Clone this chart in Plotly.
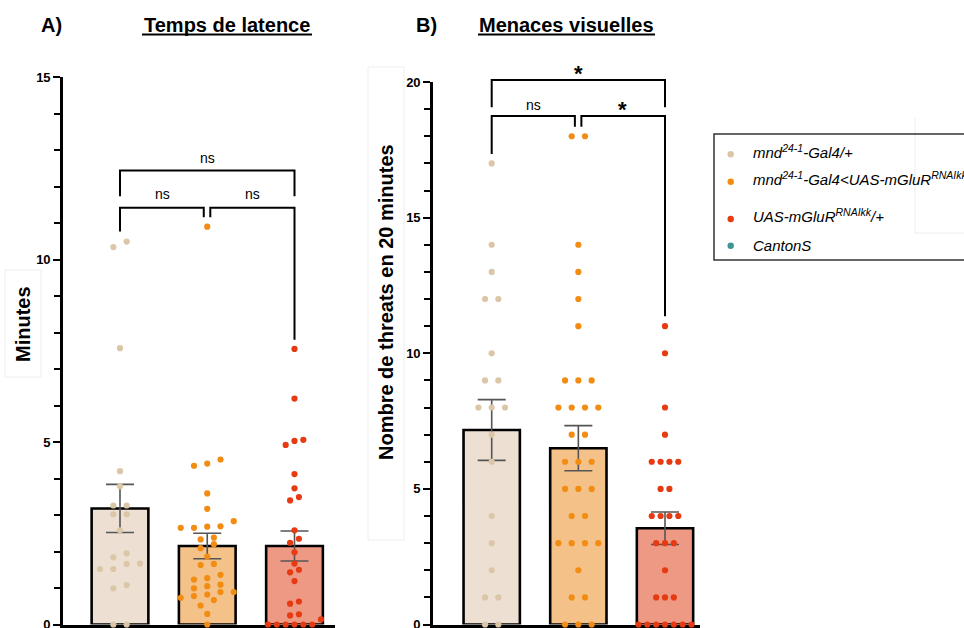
import plotly.graph_objects as go

W, H = 964, 628

# ---------------- data ----------------
genotypes = ["mnd24-1-Gal4/+", "mnd24-1-Gal4<UAS-mGluR RNAIkk", "UAS-mGluR RNAIkk/+"]

# Panel A : Temps de latence (minutes)
latence_mnd = [10.49, 10.34, 7.57, 4.20, 3.79, 3.26, 3.26, 3.02, 3.02, 2.58,
               1.95, 1.84, 1.67, 1.66, 1.52, 1.52, 1.08, 0.99, 0.0, 0.0]
latence_cross = [10.90, 4.52, 4.41, 4.35, 3.59, 3.17, 2.83, 2.69, 2.68, 2.65, 2.65,
                 2.38, 2.33, 2.20, 2.09, 1.86, 1.66, 1.63, 1.36, 1.27, 1.23, 1.09,
                 1.05, 0.99, 0.89, 0.89, 0.82, 0.78, 0.73, 0.67, 0.52, 0.29, 0.0]
latence_uas = [7.55, 6.19, 5.06, 5.03, 4.92, 4.12, 3.73, 3.49, 3.40, 2.58, 2.35,
               2.24, 1.98, 1.67, 1.50, 1.43, 1.19, 0.63, 0.57, 0.28, 0.25, 0.14,
               0.0, 0.0, 0.0, 0.0, 0.0, 0.0]
latence_mean = [3.18, 2.15, 2.15]
latence_sem = [0.66, 0.35, 0.41]

# Panel B : Nombre de threats en 20 minutes
threats_mnd = [17, 14, 13, 12, 12, 10, 9, 9, 8, 8, 8, 7, 6, 4, 3, 2, 1, 1, 0, 0]
threats_cross = [18, 18, 14, 13, 12, 11, 9, 9, 9, 8, 8, 8, 8, 7, 7, 6, 6, 6, 5, 5, 5,
                 4, 4, 3, 3, 3, 3, 2, 1, 1, 0, 0, 0]
threats_uas = [11, 10, 8, 7, 6, 6, 6, 6, 5, 5, 4, 4, 4, 4, 3, 3, 3, 2, 1, 1, 1,
               0, 0, 0, 0, 0, 0, 0]
threats_mean = [7.17, 6.50, 3.55]
threats_sem = [1.12, 0.83, 0.60]

# significance labels
sig_A = ["ns", "ns", "ns"]        # top (1 vs 3), left (1 vs 2), right (2 vs 3)
sig_B = ["*", "ns", "*"]

legend_labels = ["mnd<sup>24-1</sup>-Gal4/+",
                 "mnd<sup>24-1</sup>-Gal4<UAS-mGluR<sup>RNAIkk</sup>",
                 "UAS-mGluR<sup>RNAIkk</sup>/+",
                 "CantonS"]

# ---------------- styles ----------------
FONT = "Liberation Sans, Arial, Helvetica, sans-serif"
point_colors = ["#DCC6A8", "#F28C12", "#E63A12"]
bar_colors = ["#EDE0D2", "#F4C289", "#EE9984"]
canton_color = "#3E9595"

# geometry (pixels)
A_x0, A_x1 = 63, 335
B_x0, B_x1 = 433, 700
A_top, B_top, BOTTOM = 77, 82, 624.5
A_pxx, B_pxx = 87.25, 86.65
A_r0 = -(120 - A_x0) / A_pxx
B_r0 = -(491.7 - B_x0) / B_pxx
A_range = [A_r0, A_r0 + (A_x1 - A_x0) / A_pxx]
B_range = [B_r0, B_r0 + (B_x1 - B_x0) / B_pxx]
A_ymax, B_ymax = 15, 20
A_pxy = (BOTTOM - A_top) / A_ymax
B_pxy = (BOTTOM - B_top) / B_ymax


def py(p):
    return 1 - p / H


def px(p):
    return p / W


def A_paper(v):
    return py(BOTTOM - v * A_pxy)


def B_paper(v):
    return py(BOTTOM - v * B_pxy)


def swarm(vals, pxy, pxx, row_px=7.3, step_px=13.3, span_px=53.0):
    order = sorted(range(len(vals)), key=lambda i: vals[i])
    rows = []
    for i in order:
        if rows and (vals[i] - vals[rows[-1][0]]) * pxy <= row_px:
            rows[-1].append(i)
        else:
            rows.append([i])
    nmax = max(len(r) for r in rows)
    step = step_px if nmax < 2 else min(step_px, span_px / (nmax - 1))
    off = [0.0] * len(vals)
    for r in rows:
        n = len(r)
        for k, i in enumerate(r):
            off[i] = (k - (n - 1) / 2) * step / pxx
    return off


fig = go.Figure()

# ---------------- bars ----------------
for means, sems, xa, ya in [(latence_mean, latence_sem, "x", "y"),
                            (threats_mean, threats_sem, "x2", "y2")]:
    fig.add_trace(go.Bar(
        x=[0, 1, 2], y=means, width=0.65, xaxis=xa, yaxis=ya,
        marker=dict(color=bar_colors, line=dict(color="black", width=2.6)),
        error_y=dict(type="data", array=sems, visible=True, color="#555555",
                     thickness=1.6, width=14),
        hoverinfo="skip", showlegend=False))

# ---------------- points ----------------
panels = [([latence_mnd, latence_cross, latence_uas], A_pxy, A_pxx, "x", "y"),
          ([threats_mnd, threats_cross, threats_uas], B_pxy, B_pxx, "x2", "y2")]
for groups, pxy, pxx, xa, ya in panels:
    for g, vals in enumerate(groups):
        off = swarm(vals, pxy, pxx)
        fig.add_trace(go.Scatter(
            x=[g + o for o in off], y=vals, mode="markers", xaxis=xa, yaxis=ya,
            marker=dict(color=point_colors[g], size=6.2, line=dict(width=0)),
            cliponaxis=False, showlegend=False, name=genotypes[g]))

shapes = []
annotations = []


def bracket(xa, conv, x_a, x_b, y_left, y_top, y_right):
    shapes.append(dict(type="path", xref=xa, yref="paper",
                       path=f"M {x_a},{conv(y_left)} L {x_a},{conv(y_top)} "
                            f"L {x_b},{conv(y_top)} L {x_b},{conv(y_right)}",
                       line=dict(color="black", width=2)))


# Panel A brackets
bracket("x", A_paper, 0, 2, 11.73, 12.44, 11.73)
bracket("x", A_paper, 0, 0.96, 10.77, 11.42, 11.16)
bracket("x", A_paper, 1.035, 2, 11.16, 11.42, 7.80)
# Panel B brackets
bracket("x2", B_paper, 0, 2, 19.07, 20.07, 19.07)
bracket("x2", B_paper, 0, 0.96, 17.35, 18.75, 18.35)
bracket("x2", B_paper, 1.035, 2, 18.35, 18.75, 11.36)


def sig_text(xa, x, ypix, txt):
    star = txt == "*"
    annotations.append(dict(
        xref=xa, yref="paper", x=x, y=py(ypix + (5 if star else 0)),
        text=f"<b>{txt}</b>" if star else txt, showarrow=False,
        xanchor="center", yanchor="middle",
        font=dict(family=FONT, size=22 if star else 14, color="black")))


sig_text("x", 1.0, 157.5, sig_A[0])
sig_text("x", 0.49, 194, sig_A[1])
sig_text("x", 1.52, 194, sig_A[2])
sig_text("x2", 1.0, 68.5, sig_B[0])
sig_text("x2", 0.48, 104.5, sig_B[1])
sig_text("x2", 1.51, 105, sig_B[2])

# ---------------- titles ----------------
for txt, xc in [("A)", 51), ("Temps de latence", 227), ("B)", 426), ("Menaces visuelles", 566)]:
    annotations.append(dict(xref="paper", yref="paper", x=px(xc), y=py(25),
                            text=f"<b>{txt}</b>", showarrow=False,
                            xanchor="center", yanchor="middle",
                            font=dict(family=FONT, size=20, color="black")))
for x0, x1, yy in [(142, 312, 34.5), (478, 655, 34.5)]:
    shapes.append(dict(type="line", xref="paper", yref="paper",
                       x0=px(x0), x1=px(x1), y0=py(yy), y1=py(yy),
                       line=dict(color="black", width=2)))

# y-axis titles
annotations.append(dict(xref="paper", yref="paper", x=px(23), y=py(324),
                        text="<b>Minutes</b>", textangle=-90, showarrow=False,
                        xanchor="center", yanchor="middle",
                        font=dict(family=FONT, size=20, color="black")))
annotations.append(dict(xref="paper", yref="paper", x=px(386), y=py(302),
                        text="<b>Nombre de threats en 20 minutes</b>", textangle=-90,
                        showarrow=False, xanchor="center", yanchor="middle",
                        font=dict(family=FONT, size=20, color="black")))

# faint frames around the axis titles and legend area (as in the source image)
faint = dict(color="#EEEEEE", width=1)
shapes.append(dict(type="rect", xref="paper", yref="paper",
                   x0=px(5), x1=px(41), y0=py(377), y1=py(270), line=faint))
shapes.append(dict(type="rect", xref="paper", yref="paper",
                   x0=px(368), x1=px(404), y0=py(540), y1=py(67), line=faint))
shapes.append(dict(type="path", xref="paper", yref="paper",
                   path=f"M {px(915)},{py(118)} L {px(915)},{py(233)} L {px(970)},{py(233)}",
                   line=faint))

# ---------------- legend (drawn by hand) ----------------
shapes.append(dict(type="rect", xref="paper", yref="paper",
                   x0=px(714), x1=px(1000), y0=py(260), y1=py(134),
                   line=dict(color="#333333", width=1.5)))
leg_colors = point_colors + [canton_color]
leg_y = [154.3, 181.7, 219, 245.7]
for lab, col, yy in zip(legend_labels, leg_colors, leg_y):
    shapes.append(dict(type="circle", xref="paper", yref="paper",
                       x0=px(730.7 - 3.2), x1=px(730.7 + 3.2),
                       y0=py(yy + 3.2), y1=py(yy - 3.2),
                       fillcolor=col, line=dict(width=0)))
    shift = -3 if "<sup>" in lab else 0
    annotations.append(dict(xref="paper", yref="paper", x=px(751), y=py(yy + shift),
                            text=lab, showarrow=False, xanchor="left", yanchor="middle",
                            font=dict(family=FONT, size=15, color="black", style="italic")))

# ---------------- layout ----------------
common_x = dict(showline=True, linecolor="black", linewidth=2.6, ticks="outside",
                tickvals=[0, 1, 2], showticklabels=False, ticklen=6, tickwidth=2,
                tickcolor="black", showgrid=False, zeroline=False, layer="below traces")
common_y = dict(showline=True, linecolor="black", linewidth=2.6, ticks="outside",
                tick0=0, dtick=5, ticklen=7, tickwidth=2, tickcolor="black",
                minor=dict(dtick=1, ticks="outside", ticklen=6, tickwidth=2,
                           tickcolor="black", showgrid=False),
                tickfont=dict(family=FONT, size=13, color="black", weight="bold"),
                ticklabeloverflow="allow",
                showgrid=False, zeroline=False)

fig.update_layout(
    width=W, height=H,
    margin=dict(l=0, r=0, t=0, b=0, autoexpand=False),
    paper_bgcolor="white", plot_bgcolor="white",
    showlegend=False, barmode="overlay",
    font=dict(family=FONT, color="black"),
    xaxis=dict(domain=[px(A_x0), px(A_x1)], range=A_range, anchor="y", **common_x),
    yaxis=dict(domain=[py(BOTTOM), py(A_top)], range=[0, A_ymax], anchor="x", **common_y),
    xaxis2=dict(domain=[px(B_x0), px(B_x1)], range=B_range, anchor="y2", **common_x),
    yaxis2=dict(domain=[py(BOTTOM), py(B_top)], range=[0, B_ymax], anchor="x2", **common_y),
    shapes=shapes, annotations=annotations,
)

fig.write_html("out.html",
               config={"displayModeBar": False},
               post_script="document.body.style.margin='0px';"
                           "document.body.style.overflow='hidden';")
